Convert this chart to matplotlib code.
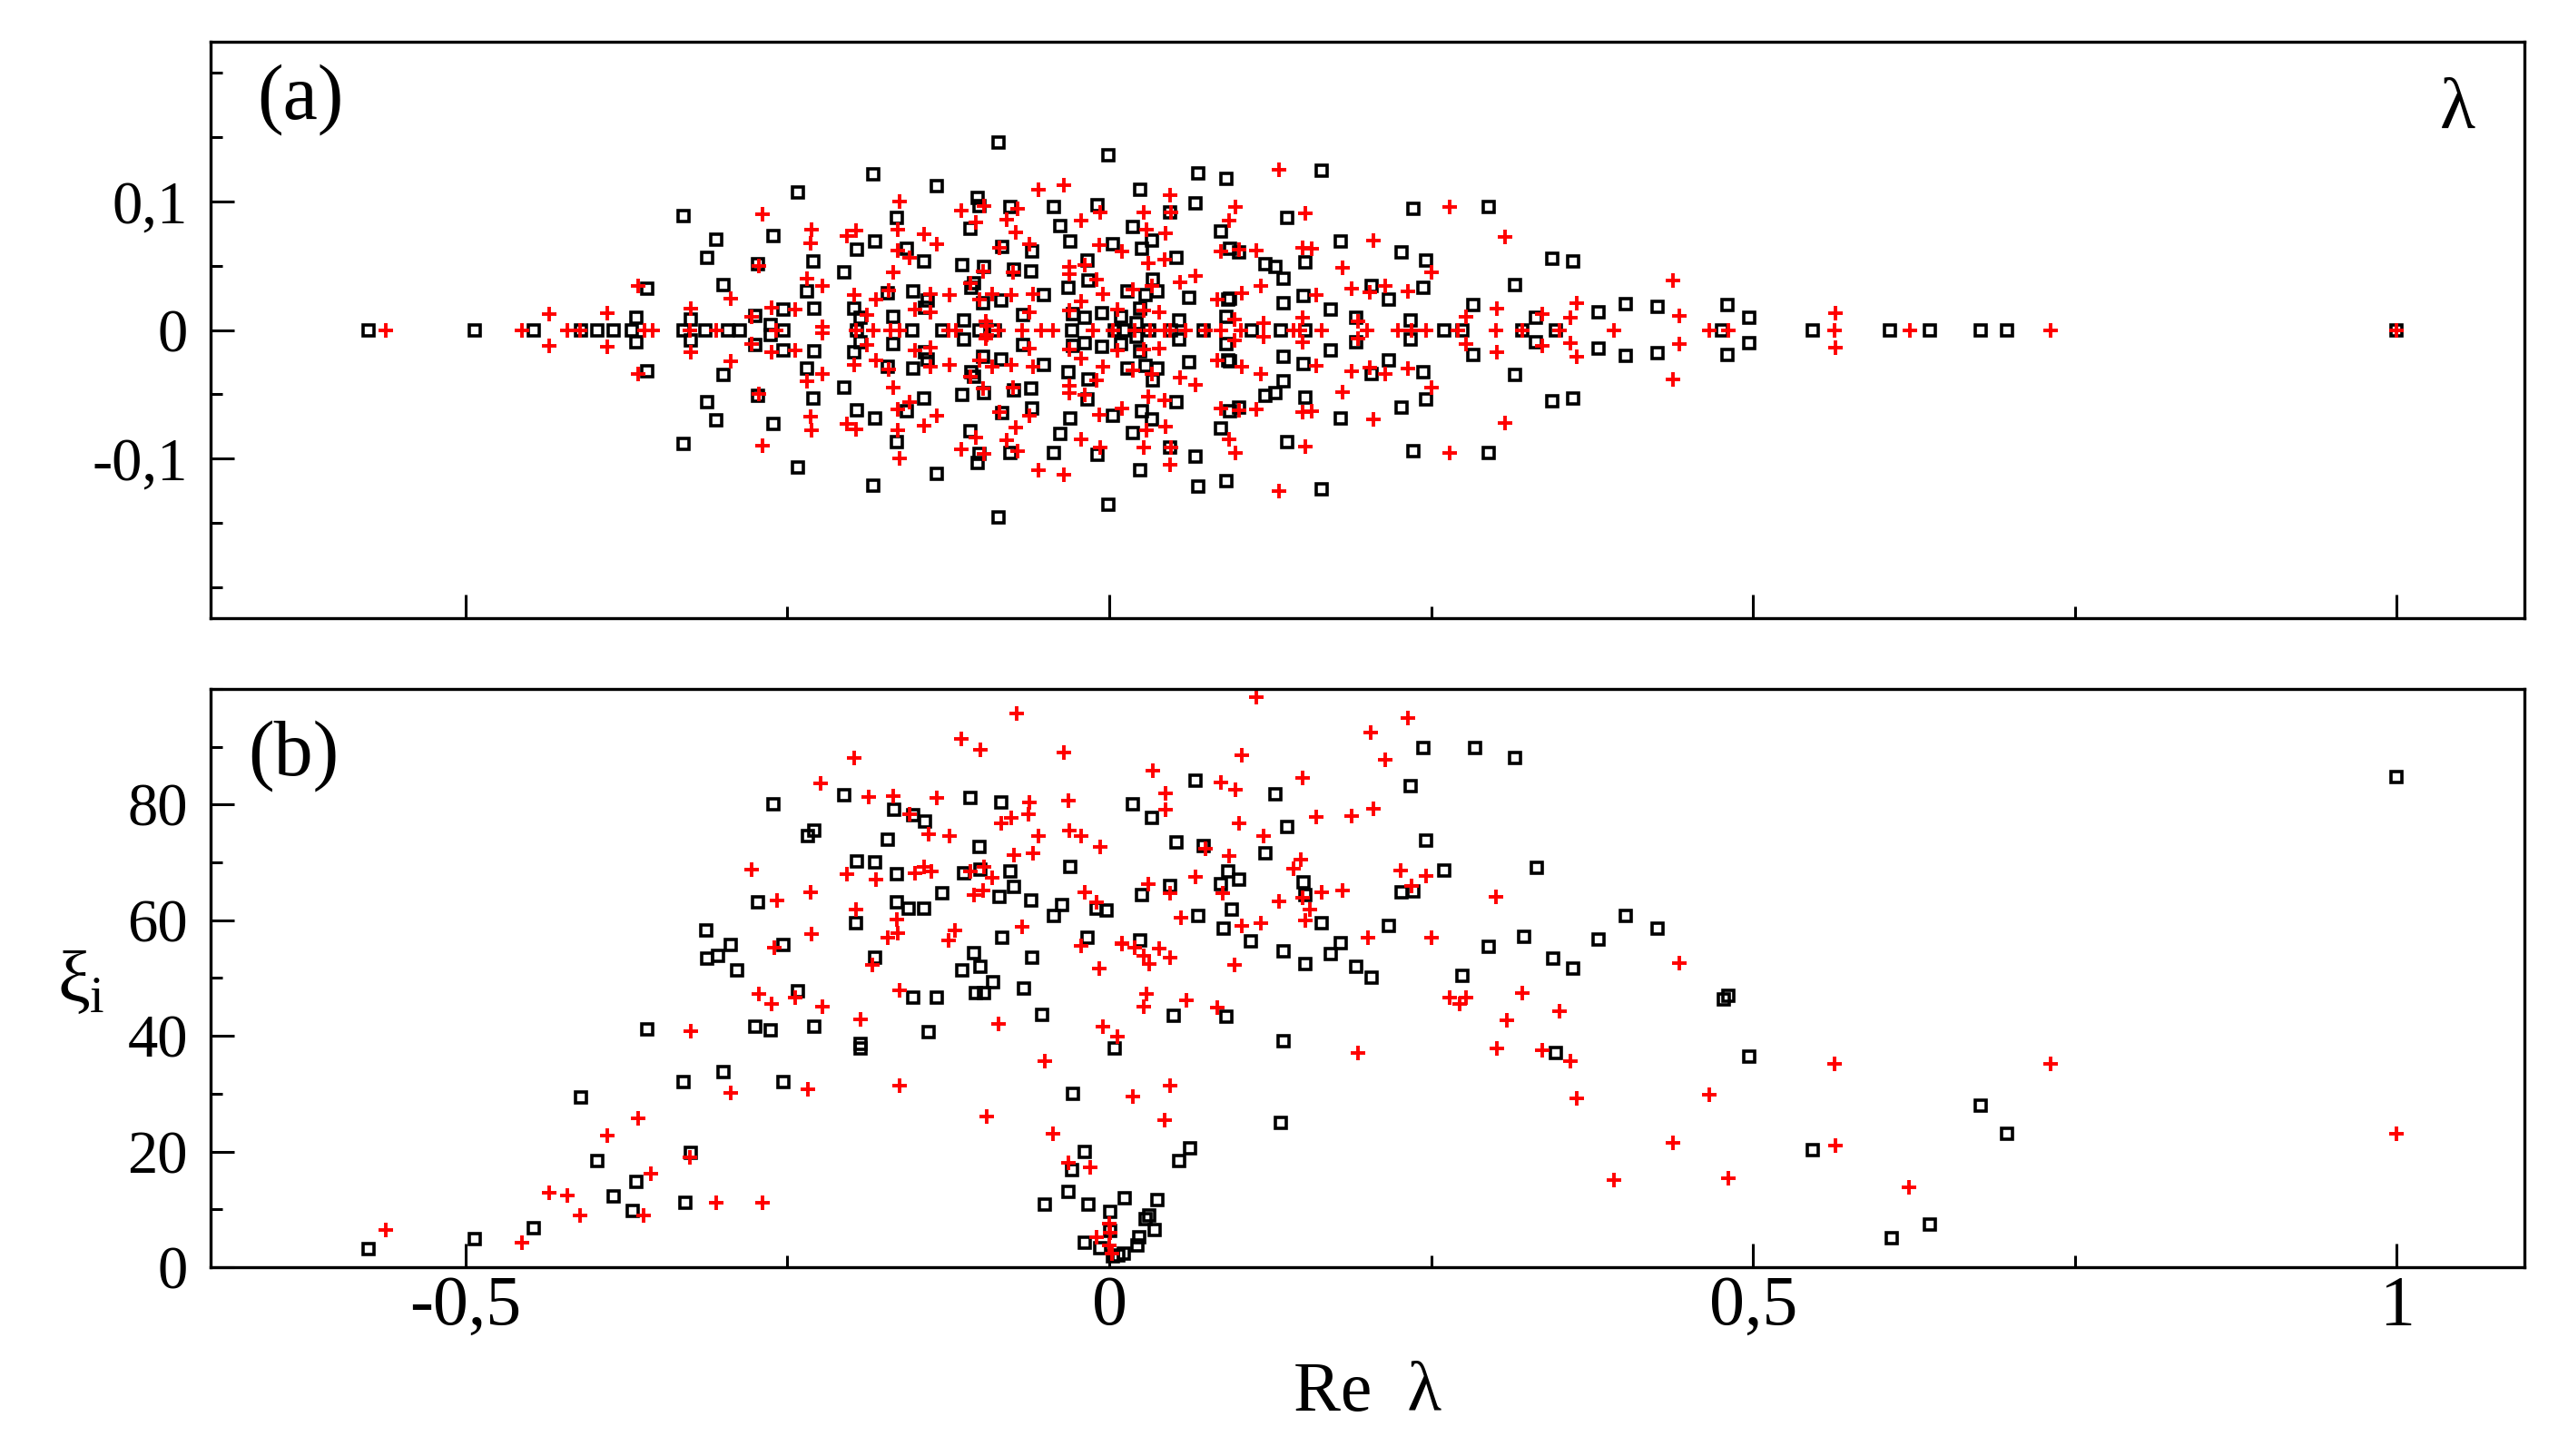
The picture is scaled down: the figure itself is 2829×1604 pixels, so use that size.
import matplotlib
matplotlib.use("Agg")
import matplotlib.pyplot as plt
from matplotlib.ticker import FixedLocator, MultipleLocator

plt.rcParams['font.family'] = ['Liberation Serif', 'DejaVu Serif']
plt.rcParams['mathtext.fontset'] = 'custom'
plt.rcParams['mathtext.rm'] = 'Liberation Serif'
plt.rcParams['mathtext.it'] = 'Liberation Serif'

# ---- panel (a): eigenvalues, complex ones stored as upper half (conjugates mirrored) ----
sq_pair_re = [-0.367, -0.359, -0.331, -0.305, -0.312, -0.300, -0.325,
              -0.086, -0.001, -0.183, -0.242, -0.134, -0.102, -0.101, -0.077, -0.043, -0.009,
              -0.165, -0.108, -0.038, -0.261, -0.196, -0.182, -0.157, -0.144, -0.083, -0.030,
              0.003, -0.060, -0.273, -0.230, -0.206, -0.114, -0.097, -0.074, -0.061, -0.017,
              -0.016, -0.032, -0.235, -0.229, -0.105, -0.107, -0.152, -0.141, -0.172, -0.198,
              -0.193, -0.168, -0.143, -0.098, -0.084, -0.113, -0.051, -0.067, -0.028, -0.019,
              -0.006, -0.253, -0.275, -0.263,
              0.069, 0.091, 0.165, 0.024, 0.067, 0.047, 0.138, 0.236, 0.295, 0.018, 0.087,
              0.025, 0.033, 0.094, 0.101, 0.052, 0.180, 0.227, 0.246, 0.121, 0.129, 0.152,
              0.135, 0.034, 0.014, 0.028, 0.037, 0.062, 0.092, 0.094, 0.151, 0.135, 0.172,
              0.204, 0.217, 0.244, 0.283, 0.192, 0.234, 0.024, 0.009, 0.054, 0.091, 0.021,
              0.344, 0.360, 0.315, 0.331, 0.380, 0.401, 0.426, 0.480, 0.497]
sq_pair_im = [0.0094, 0.032, 0.0885, 0.070, 0.056, 0.035, 0.008,
              0.146, 0.136, 0.121, 0.107, 0.112, 0.103, 0.096, 0.0955, 0.0958, 0.0967,
              0.0873, 0.0786, 0.081, 0.0728, 0.0627, 0.0685, 0.0634, 0.0535, 0.0646, 0.069,
              0.0669, 0.061, 0.051, 0.0533, 0.045, 0.0505, 0.0488, 0.047, 0.0458, 0.054,
              0.0387, 0.0329, 0.0298, 0.0164, 0.0364, 0.0329, 0.030, 0.023, 0.0286, 0.0169,
              0.0094, 0.0106, 0.0176, 0.0211, 0.0228, 0.0075, 0.027, 0.0117, 0.0124, 0.0099,
              0.0129, 0.016, 0.0113, 0.004,
              0.1216, 0.1174, 0.124, 0.1087, 0.0981, 0.0911, 0.0869, 0.0944, 0.0958, 0.0803, 0.0768,
              0.0634, 0.0692, 0.0634, 0.0606, 0.0563, 0.0685, 0.0603, 0.054, 0.0509, 0.0493, 0.0523,
              0.0399, 0.0392, 0.0298, 0.0275, 0.0298, 0.0251, 0.0235, 0.0242, 0.0263, 0.0211, 0.016,
              0.0345, 0.0235, 0.0329, 0.0192, 0.0094, 0.0075, 0.0164, 0.0106, 0.0075, 0.0106, 0.005,
              0.0552, 0.0533, 0.0347, 0.0094, 0.0141, 0.020, 0.0183, 0.0192, 0.0099]
sq_real = [-0.575, -0.493, -0.447, -0.410, -0.398, -0.385, -0.371, -0.331, -0.314, -0.296,
           -0.287, -0.253, -0.196, -0.153, -0.130, -0.101, -0.089, -0.029, 0.004, 0.011,
           0.031, 0.048, 0.073, 0.111, 0.133, 0.152, 0.260, 0.274, 0.321, 0.347, 0.476,
           0.546, 0.606, 0.637, 0.677, 0.697, 1.0]

pl_pair_re = [-0.435, -0.390, -0.366, -0.325, -0.294,
              -0.035, -0.055, -0.163, -0.269, -0.115, -0.097, -0.071, -0.007, -0.231, -0.232,
              -0.204, -0.197, -0.164, -0.144, -0.134, -0.104, -0.080, -0.073, -0.022, -0.085,
              -0.062, -0.008, 0.010, -0.272, -0.164, -0.155, -0.168, -0.235, -0.223, -0.262,
              -0.244, -0.278, -0.198, -0.181, -0.171, -0.188, -0.139, -0.151, -0.139, -0.124,
              -0.098, -0.108, -0.101, -0.091, -0.076, -0.075, -0.059, -0.062, -0.031, -0.031,
              -0.019, -0.010, -0.005, -0.022, -0.031, 0.006, -0.096, -0.223, -0.095,
              0.132, 0.047, 0.098, 0.027, 0.048, 0.093, 0.152, 0.029, 0.044, 0.205, 0.264,
              0.307, 0.030, 0.043, 0.087, 0.101, 0.114, 0.150, 0.157, 0.181, 0.250, 0.067,
              0.055, 0.018, 0.033, 0.118, 0.103, 0.084, 0.161, 0.188, 0.202, 0.214, 0.232,
              0.277, 0.301, 0.027, 0.039, 0.097, 0.120, 0.150, 0.193,
              0.336, 0.363, 0.358, 0.438, 0.443, 0.564]
pl_pair_im = [0.0122, 0.0129, 0.0345, 0.0169, 0.0246,
              0.1127, 0.109, 0.0998, 0.0897, 0.0927, 0.0962, 0.0939, 0.0915, 0.078, 0.0674,
              0.0732, 0.0775, 0.078, 0.0746, 0.0669, 0.0833, 0.0857, 0.0758, 0.0852, 0.0638,
              0.0669, 0.0657, 0.061, 0.050, 0.0617, 0.0563, 0.0446, 0.040, 0.034, 0.0176,
              0.016, 0.0106, 0.027, 0.0235, 0.0305, 0.0117, 0.0282, 0.016, 0.0136, 0.027,
              0.0458, 0.0364, 0.0235, 0.0282, 0.027, 0.0446, 0.0282, 0.0141, 0.0493, 0.0434,
              0.0505, 0.0392, 0.0282, 0.0223, 0.0153, 0.016, 0.007, 0.0023, 0.0035,
              0.1249, 0.1045, 0.0958, 0.0911, 0.0915, 0.085, 0.0904, 0.0779, 0.0751, 0.0692, 0.0955,
              0.072, 0.0521, 0.0545, 0.061, 0.0622, 0.0615, 0.0641, 0.0634, 0.0481, 0.0446, 0.0423,
              0.0369, 0.0317, 0.034, 0.034, 0.0286, 0.0239, 0.0275, 0.0322, 0.0293, 0.034, 0.030,
              0.0106, 0.0169, 0.015, 0.0141, 0.0082, 0.0054, 0.0094, 0.007,
              0.0122, 0.0211, 0.0099, 0.0383, 0.011, 0.0134]
pl_real = [-0.562, -0.456, -0.421, -0.411, -0.361, -0.355, -0.326, -0.305, -0.259, -0.197,
           -0.183, -0.170, -0.163, -0.125, -0.119, -0.086, -0.068, -0.053, -0.044, -0.013,
           0.003, 0.020, 0.032, 0.043, 0.047, 0.059, 0.075, 0.087, 0.102, 0.143, 0.148,
           0.165, 0.200, 0.224, 0.235, 0.246, 0.271, 0.300, 0.321, 0.350, 0.392, 0.466,
           0.481, 0.563, 0.622, 0.731, 1.0]

# ---- panel (b): xi_i versus Re(lambda) ----
sq_b_re = [-0.575, -0.493, -0.447, -0.410, -0.398, -0.385, -0.370, -0.367, -0.359, -0.331,
           -0.329, -0.325, -0.313, -0.312, -0.304, -0.294, -0.289, -0.300,
           -0.261, -0.206, -0.229, -0.234, -0.167, -0.152, -0.143, -0.172, -0.108, -0.084,
           -0.196, -0.182, -0.165, -0.101, -0.113, -0.100, -0.077, -0.030, -0.130, -0.074,
           -0.085, -0.061, -0.037, -0.043, -0.010, -0.002, -0.273, -0.165, -0.156, -0.144,
           -0.197, -0.253, -0.182, -0.083, -0.060, -0.017, -0.105, -0.100, -0.114, -0.090,
           -0.097, -0.104, -0.066, -0.052, -0.242, -0.152, -0.134, -0.275, -0.263, -0.229,
           -0.193, -0.193, -0.140, -0.253, 0.004, -0.028, -0.019, -0.029, -0.032, -0.050,
           -0.016, 0.001, 0.012, -0.019, -0.007, 0.001, 0.007,
           0.244, 0.284, 0.234, 0.067, 0.018, 0.033, 0.129, 0.138, 0.052, 0.073, 0.121,
           0.246, 0.260, 0.092, 0.101, 0.087, 0.047, 0.025, 0.151, 0.152, 0.227, 0.236,
           0.069, 0.095, 0.089, 0.165, 0.217, 0.024, 0.110, 0.135, 0.152, 0.180, 0.172,
           0.192, 0.204, 0.295, 0.274, 0.050, 0.091, 0.135, 0.133, 0.063, 0.054, 0.037,
           0.031, 0.028, 0.035, 0.023, 0.022, 0.011, 0.003,
           0.315, 0.332, 0.401, 0.426, 0.380, 0.322, 0.345, 0.360, 0.477, 0.481, 0.347,
           0.497, 0.546, 0.608, 1.0, 0.677, 0.697, 0.637]
sq_b_xi = [3.2, 4.9, 6.8, 29.3, 18.3, 12.2, 9.7, 14.7, 41.2, 32.1,
           11.1, 19.7, 58.3, 53.3, 53.8, 55.7, 51.3, 33.7,
           80.1, 81.7, 75.5, 74.5, 79.1, 78.2, 77.1, 74.0, 81.2, 80.4,
           70.2, 70.0, 67.9, 72.7, 68.2, 68.8, 68.5, 69.3, 64.7, 65.7,
           64.0, 63.4, 62.7, 60.7, 62.0, 61.7, 63.1, 63.1, 62.0, 62.0,
           59.5, 55.7, 53.5, 57.0, 53.5, 57.0, 54.3, 52.0, 51.3, 49.3,
           47.4, 47.4, 48.2, 43.7, 47.7, 46.6, 46.6, 41.6, 41.0, 41.6,
           38.6, 37.8, 40.7, 32.0, 37.8, 30.0, 20.0, 16.8, 13.0, 10.8,
           10.8, 9.5, 11.9, 4.2, 3.3, 6.3, 2.1,
           89.8, 89.8, 83.2, 84.1, 80.1, 77.7, 81.8, 76.2, 73.5, 72.9, 71.6,
           73.8, 68.6, 68.4, 67.0, 66.3, 65.9, 64.3, 66.5, 64.3, 64.9, 65.0,
           60.7, 61.8, 58.5, 59.5, 59.1, 56.5, 56.3, 54.6, 52.4, 56.0, 54.2,
           52.0, 50.0, 55.4, 50.4, 43.5, 43.4, 39.1, 25.0, 20.6, 18.4, 11.6,
           9.0, 8.3, 6.5, 5.1, 3.7, 2.4, 1.8,
           88.1, 69.1, 60.8, 58.6, 56.7, 57.2, 53.3, 51.6, 46.3, 46.9, 37.0,
           36.4, 20.2, 5.0, 84.7, 28.0, 23.1, 7.4]

pl_b_re = [-0.562, -0.456, -0.435, -0.421, -0.411, -0.390, -0.366, -0.356, -0.362, -0.325,
           -0.326, -0.305, -0.294,
           -0.072, -0.115, -0.100, -0.035, -0.198, -0.224, -0.187, -0.168, -0.134, -0.155,
           -0.140, -0.124, -0.062, -0.063, -0.032, -0.084, -0.076, -0.055, -0.031, -0.022,
           -0.007, -0.074, -0.059, -0.278, -0.204, -0.181, -0.151, -0.144, -0.138, -0.108,
           -0.097, -0.091, -0.098, -0.105, -0.232, -0.258, -0.197, -0.165, -0.164, -0.172,
           -0.120, -0.125, -0.068, -0.019, -0.010, -0.022, 0.010, -0.008, -0.231, -0.260,
           -0.184, -0.272, -0.262, -0.244, -0.223, -0.163, -0.193, -0.086, -0.005, 0.006,
           -0.234, -0.163, -0.050, -0.095, -0.044, -0.032, -0.015, -0.269, -0.010, 0.000,
           0.001, 0.000, 0.002,
           0.114, 0.232, 0.203, 0.103, 0.214, 0.034, 0.044, 0.044, 0.087, 0.098, 0.150,
           0.101, 0.161, 0.188, 0.205, 0.120, 0.075, 0.093, 0.149, 0.143, 0.226, 0.246,
           0.235, 0.300, 0.067, 0.030, 0.047, 0.088, 0.132, 0.150, 0.165, 0.181, 0.156,
           0.152, 0.056, 0.103, 0.118, 0.010, 0.020, 0.027, 0.031, 0.039, 0.047, 0.097,
           0.201, 0.250, 0.029, 0.027, 0.060, 0.084, 0.264, 0.277, 0.272, 0.301, 0.309,
           0.193, 0.047, 0.018, 0.043,
           0.321, 0.350, 0.336, 0.358, 0.363, 0.443, 0.466, 0.438, 0.392, 0.481, 0.563,
           0.564, 0.731, 1.0, 0.621]
pl_b_xi = [6.5, 4.2, 12.9, 12.4, 9.0, 22.7, 25.7, 16.1, 9.0, 40.8,
           19.0, 11.2, 30.2,
           95.7, 91.4, 89.5, 89.0, 88.1, 83.6, 81.3, 81.5, 81.1, 78.4,
           74.9, 74.6, 80.3, 78.4, 80.7, 76.7, 77.7, 74.6, 75.5, 74.5,
           72.7, 71.3, 71.6, 68.8, 67.9, 67.0, 68.1, 69.3, 68.4, 68.4,
           69.3, 67.4, 65.2, 64.4, 64.9, 63.4, 61.8, 60.2, 57.8, 57.0,
           58.3, 56.5, 58.8, 64.9, 63.1, 55.6, 56.0, 51.6, 57.6, 55.3,
           52.2, 47.2, 45.5, 46.6, 45.1, 47.8, 42.8, 42.0, 41.6, 39.9,
           30.8, 31.4, 35.6, 26.1, 23.1, 18.0, 17.3, 11.2, 5.2, 7.6,
           6.0, 3.7, 2.4,
           98.6, 94.9, 92.4, 88.5, 87.8, 85.8, 81.9, 79.1, 83.9, 82.6, 84.6,
           76.7, 77.8, 78.0, 79.3, 74.5, 72.3, 71.1, 70.5, 68.9, 68.6, 67.7,
           65.9, 64.0, 67.5, 66.3, 64.7, 64.7, 63.3, 63.9, 64.9, 65.2, 61.8,
           59.9, 60.5, 59.1, 59.5, 55.9, 55.3, 53.8, 52.5, 55.1, 53.6, 52.2,
           57.0, 57.0, 47.2, 45.1, 46.2, 44.9, 46.7, 46.6, 45.6, 37.8, 42.7,
           37.0, 31.4, 29.5, 25.5,
           47.4, 44.2, 37.5, 35.7, 29.2, 52.6, 29.8, 21.5, 15.1, 15.4, 35.2,
           21.0, 35.1, 23.1, 13.8]

sq_style = dict(linestyle='none', marker='s', ms=9.3, mfc='none', mec='black', mew=2.6)
pl_style = dict(linestyle='none', marker='+', ms=12, color='red', mew=2.8)

fig = plt.figure(figsize=(28.29, 16.04), dpi=100)
ax1 = fig.add_axes([0.082, 0.5754, 0.901, 0.3959])
ax2 = fig.add_axes([0.082, 0.1297, 0.901, 0.3971])

# panel (a)
im_neg_sq = [-v for v in sq_pair_im]
im_neg_pl = [-v for v in pl_pair_im]
ax1.plot(sq_pair_re + sq_pair_re + sq_real, sq_pair_im + im_neg_sq + [0.0] * len(sq_real), **sq_style)
ax1.plot(pl_pair_re + pl_pair_re + pl_real, pl_pair_im + im_neg_pl + [0.0] * len(pl_real), **pl_style)
ax1.set_ylim(-0.224, 0.224)
ax1.yaxis.set_major_locator(FixedLocator([-0.1, 0.0, 0.1]))
ax1.yaxis.set_minor_locator(MultipleLocator(0.05))
ax1.set_yticklabels(['-0,1', '0', '0,1'])
ax1.text(0.02, 0.90, '(a)', transform=ax1.transAxes, fontsize=62, va='center', ha='left')
ax1.text(0.971, 0.88, '\u03bb', transform=ax1.transAxes, fontsize=58, va='center', ha='center')

# panel (b)
ax2.plot(sq_b_re, sq_b_xi, **sq_style)
ax2.plot(pl_b_re, pl_b_xi, **pl_style)
ax2.set_ylim(0, 100)
ax2.yaxis.set_major_locator(FixedLocator([0, 20, 40, 60, 80]))
ax2.yaxis.set_minor_locator(MultipleLocator(10))
ax2.set_yticklabels(['0', '20', '40', '60', '80'])
ax2.text(0.016, 0.885, '(b)', transform=ax2.transAxes, fontsize=62, va='center', ha='left')
ax2.set_ylabel(r'$\xi_{\rm i}$', fontsize=58, rotation=0, ha='center', va='center')
ax2.yaxis.set_label_coords(-0.056, 0.49)
ax2.set_xlabel('Re  \u03bb', fontsize=56, va='center')
ax2.xaxis.set_label_coords(0.5, -0.218)

for ax in (ax1, ax2):
    ax.set_xlim(-0.698, 1.099)
    ax.xaxis.set_major_locator(FixedLocator([-0.5, 0.0, 0.5, 1.0]))
    ax.xaxis.set_minor_locator(MultipleLocator(0.25))
    ax.tick_params(which='major', direction='in', length=18.7, width=2.2,
                   top=False, right=False)
    ax.tick_params(which='minor', direction='in', length=9.5, width=2.2,
                   top=False, right=False)
    ax.tick_params(axis='y', which='major', labelsize=48, pad=18)
    ax.tick_params(axis='x', which='major', labelsize=56, pad=6)
    for sp in ax.spines.values():
        sp.set_linewidth(2.4)

ax1.set_xticklabels([])
ax2.set_xticklabels(['-0,5', '0', '0,5', '1'])

fig.savefig('out.png', dpi=100)
